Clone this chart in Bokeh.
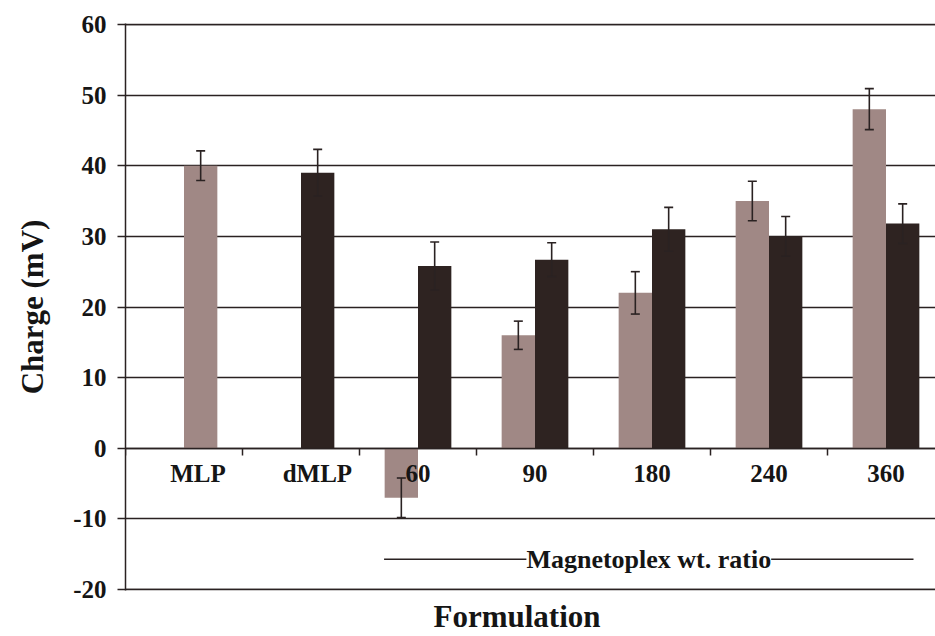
from bokeh.plotting import figure
from bokeh.models import (Range1d, FixedTicker, Whisker, TeeHead, ColumnDataSource,
                          Label, Title)
from bokeh.embed import file_html
from bokeh.resources import INLINE

# ---------------- data ----------------
categories = ["MLP", "dMLP", "60", "90", "180", "240", "360"]
light_values = [40, None, -7, 16, 22, 35, 48]
light_errors = [2.1, None, 2.8, 2.0, 3.0, 2.8, 2.9]
dark_values = [None, 39, 25.8, 26.7, 31, 30, 31.8]
dark_errors = [None, 3.3, 3.4, 2.4, 3.1, 2.8, 2.8]
y_ticks = [-20, -10, 0, 10, 20, 30, 40, 50, 60]
group_label = "Magnetoplex wt. ratio"
group_members = ["60", "90", "180", "240", "360"]

# ---------------- layout / style ----------------
light_side = [1, -1, -1, -1, -1, -1, -1]   # MLP's single bar occupies the right slot
dark_side = [1, 1, 1, 1, 1, 1, 1]
label_shift = [0.12, 0.14, 0.0, 0.0, 0.0, 0.0, 0.0]
BAR_W = 0.285
LIGHT = "#a08885"
DARK = "#2e2321"
INK = "#2a2222"
TXT = "#151515"
FONT = "Liberation Serif"
GROUP_Y = -15.7
FRAME_W, FRAME_H = 810, 567
PX_PER_CAT = 117
EDGE_PAD = 0.12

p = figure(frame_width=FRAME_W, frame_height=FRAME_H,
           x_range=Range1d(-0.5, -0.5 + FRAME_W / PX_PER_CAT),
           y_range=Range1d(y_ticks[0] - EDGE_PAD, y_ticks[-1] + EDGE_PAD),
           output_backend="svg", toolbar_location=None,
           min_border_left=125, min_border_top=23, min_border_right=0,
           min_border_bottom=46)
p.outline_line_color = None
p.background_fill_color = "white"
p.border_fill_color = "white"


def series(values, errors, sides):
    xs, tops, ups, lows = [], [], [], []
    for i, (v, e, s) in enumerate(zip(values, errors, sides)):
        if v is None:
            continue
        x = i + s * BAR_W / 2
        xs.append(x)
        tops.append(v)
        ups.append(v + e)
        lows.append(v - e)
    return ColumnDataSource(dict(x=xs, top=tops, upper=ups, lower=lows))


src_light = series(light_values, light_errors, light_side)
src_dark = series(dark_values, dark_errors, dark_side)

# grid
p.xgrid.visible = False
p.ygrid.ticker = FixedTicker(ticks=y_ticks)
p.ygrid.grid_line_color = INK
p.ygrid.grid_line_width = 1.5
# frame-edge grid lines (top and bottom of the value range)
p.hspan(y=[y_ticks[0], y_ticks[-1]], line_color=INK, line_width=1.5)

for src, col in ((src_light, LIGHT), (src_dark, DARK)):
    p.vbar(x="x", top="top", bottom=0, width=BAR_W, source=src,
           fill_color=col, line_color=None)

for src in (src_light, src_dark):
    w = Whisker(source=src, base="x", upper="upper", lower="lower",
                line_color=INK, line_width=1.6, level="annotation",
                upper_head=TeeHead(size=9, line_color=INK, line_width=1.6),
                lower_head=TeeHead(size=9, line_color=INK, line_width=1.6))
    p.add_layout(w)

# y axis
ya = p.yaxis[0]
ya.ticker = FixedTicker(ticks=y_ticks)
ya.major_label_overrides = {v: str(v) for v in y_ticks}
ya.axis_line_color = INK
ya.axis_line_width = 1.5
ya.major_tick_line_color = INK
ya.major_tick_line_width = 1.5
ya.major_tick_out = 8
ya.major_tick_in = 0
ya.minor_tick_line_color = None
ya.major_label_standoff = 11
ya.major_label_text_font = FONT
ya.major_label_text_font_style = "bold"
ya.major_label_text_font_size = "25px"
ya.major_label_text_color = TXT
ya.axis_label = "Charge (mV)"
ya.axis_label_text_font = FONT
ya.axis_label_text_font_style = "bold"
ya.axis_label_text_font_size = "31px"
ya.axis_label_text_color = TXT
ya.axis_label_standoff = 20

# x axis crossing at 0 (ticks at category boundaries, labels at categories)
xa = p.xaxis[0]
label_pos = [i + s for i, s in enumerate(label_shift)]
bounds = [i - 0.5 for i in range(len(categories) + 1)]
xa.ticker = FixedTicker(ticks=label_pos, minor_ticks=bounds)
xa.major_label_overrides = {pos: c for pos, c in zip(label_pos, categories)}
xa.fixed_location = 0
xa.axis_line_color = INK
xa.axis_line_width = 1.5
xa.major_tick_line_color = None
xa.minor_tick_line_color = INK
xa.minor_tick_line_width = 1.5
xa.minor_tick_out = 7
xa.minor_tick_in = 0
xa.major_label_standoff = 5
xa.major_label_text_font = FONT
xa.major_label_text_font_style = "bold"
xa.major_label_text_font_size = "25px"
xa.major_label_text_color = TXT

# group bracket
i0 = categories.index(group_members[0])
i1 = categories.index(group_members[-1])
x_start = i0 - BAR_W - 0.005
x_end = i1 + 0.235
p.segment(x0=[x_start], y0=[GROUP_Y], x1=[x_end], y1=[GROUP_Y],
          line_color=INK, line_width=1.5)
p.add_layout(Label(x=(x_start + x_end) / 2, y=GROUP_Y, text=group_label,
                   text_align="center", text_baseline="middle",
                   background_fill_color="white",
                   text_font=FONT, text_font_style="bold",
                   text_font_size="26px", text_color=TXT))

# x title
t = Title(text="Formulation", align="left", text_font=FONT,
          text_font_style="bold", text_font_size="31px", text_color=TXT,
          offset=308, standoff=12)
p.add_layout(t, "below")

open("out.html", "w").write(file_html(p, INLINE))
